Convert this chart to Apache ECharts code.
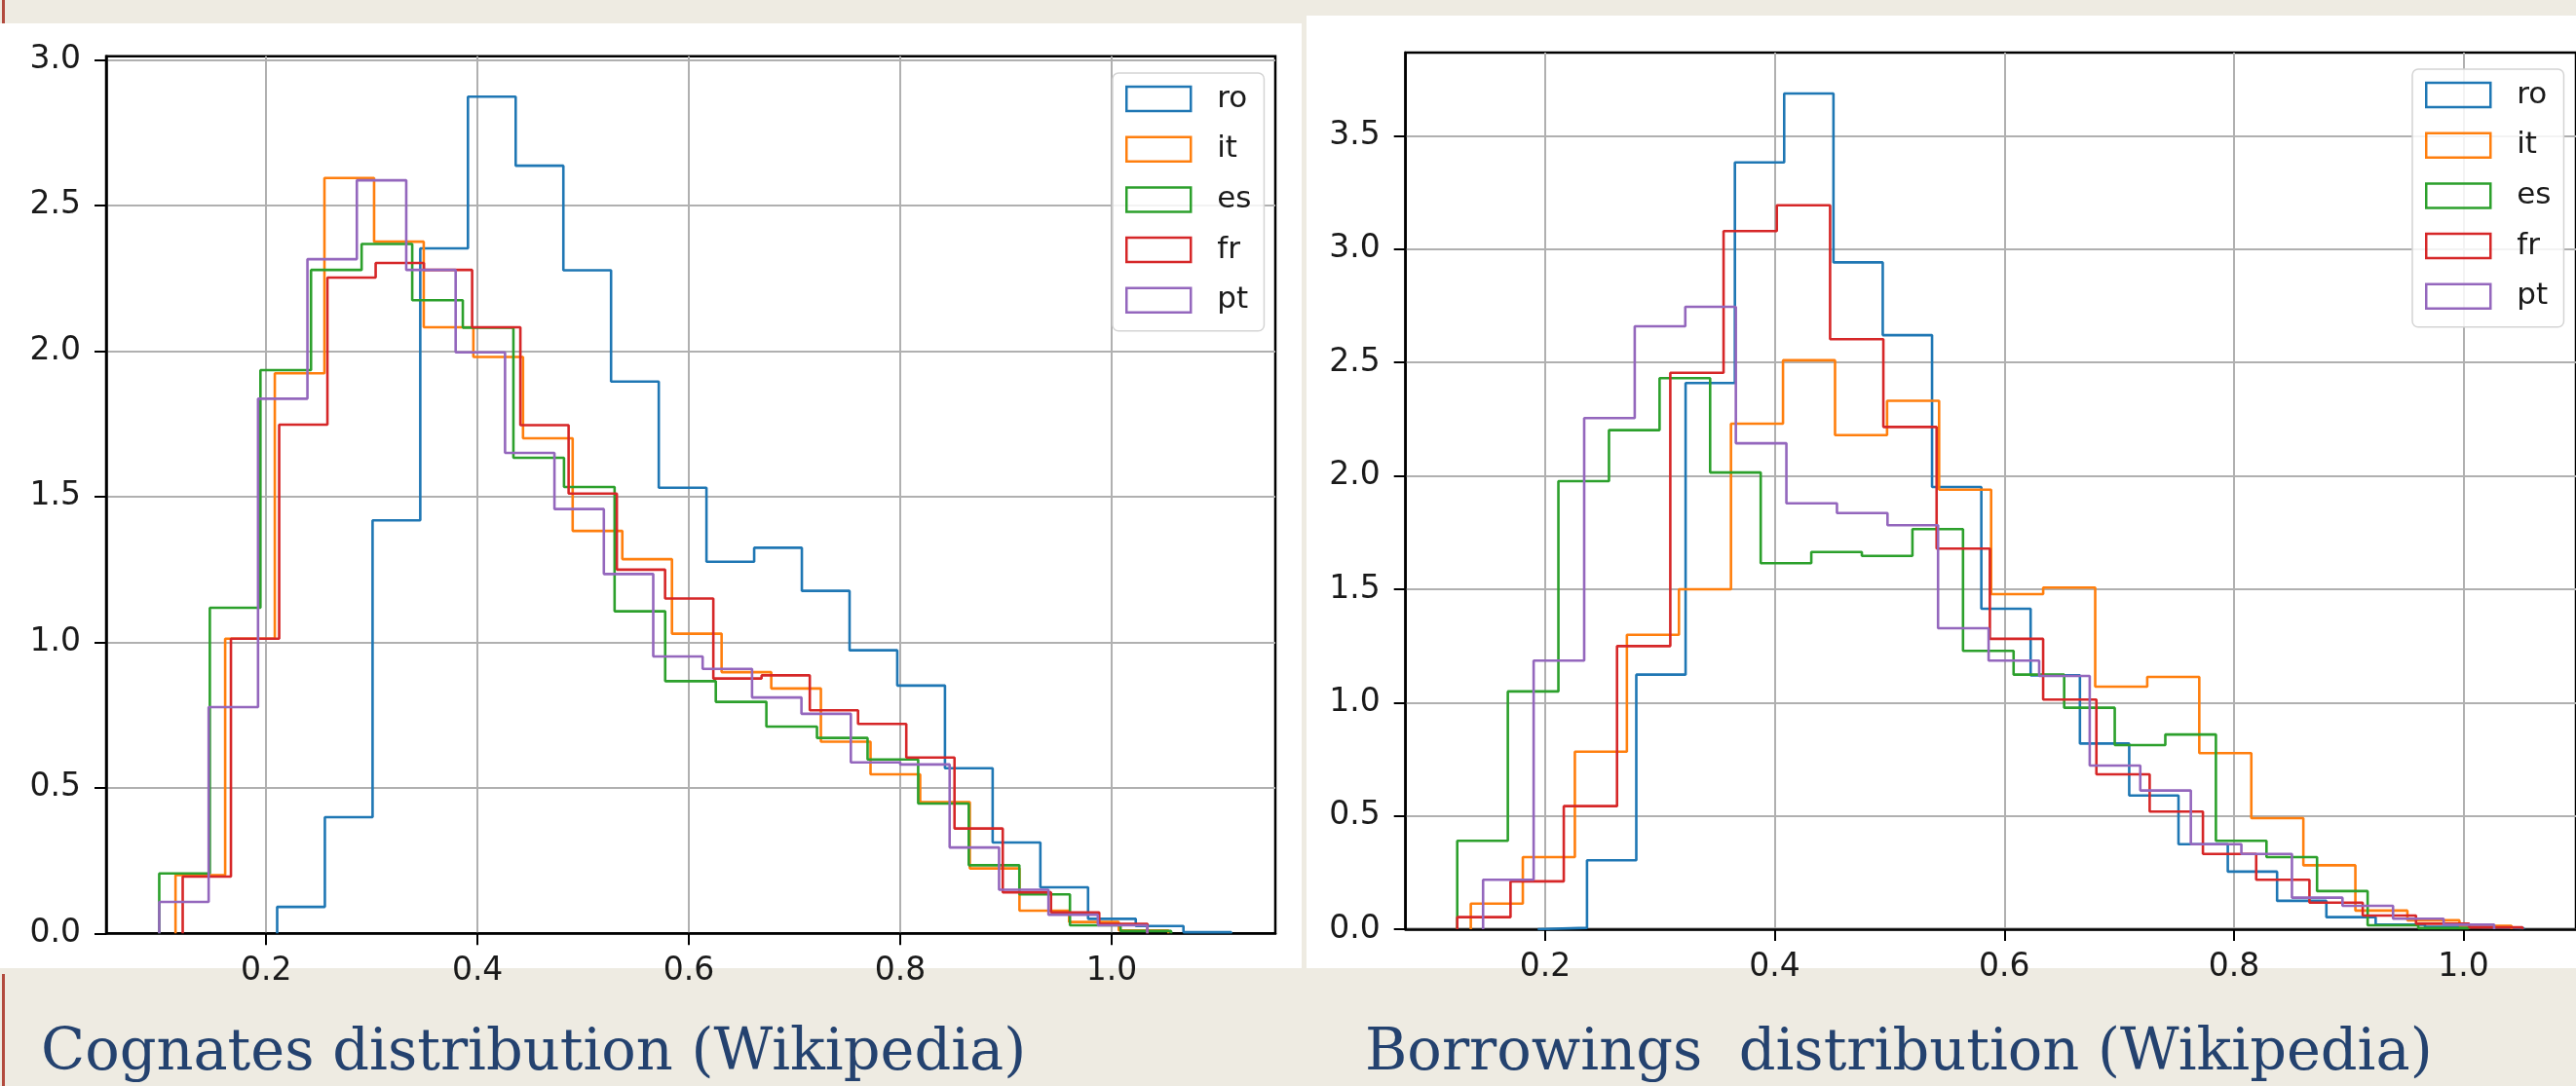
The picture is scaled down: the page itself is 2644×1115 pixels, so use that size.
<!DOCTYPE html>
<html><head><meta charset="utf-8">
<script src="https://cdn.jsdelivr.net/npm/echarts@6/dist/echarts.min.js"></script>
<style>html,body{margin:0;padding:0;background:#eeebe2;} #c{width:2644px;height:1115px;}</style>
</head><body><div id="c"></div>
<script>
const languages = ['ro','it','es','fr','pt'];
const colors = ['#1f77b4','#ff7f0e','#2ca02c','#d62728','#9467bd'];

// Cognates distribution: per-language bin start, bin width, densities (20 bins)
const cognateBinStart = [0.2104, 0.1142, 0.0988, 0.1210, 0.0988];
const cognateBinWidth = [0.04514, 0.04698, 0.04788, 0.04565, 0.04675];
const cognateRo = [0.091,0.399,1.418,2.352,2.873,2.636,2.277,1.895,1.530,1.276,1.324,1.176,0.972,0.851,0.567,0.312,0.158,0.050,0.025,0.004];
const cognateIt = [0.200,1.012,1.923,2.594,2.375,2.081,1.979,1.700,1.382,1.285,1.029,0.897,0.841,0.658,0.546,0.451,0.223,0.078,0.039,0.010];
const cognateEs = [0.206,1.118,1.934,2.278,2.367,2.174,2.080,1.633,1.533,1.106,0.866,0.795,0.710,0.671,0.597,0.446,0.234,0.134,0.028,0.008];
const cognateFr = [0.195,1.012,1.747,2.252,2.302,2.278,2.081,1.745,1.510,1.249,1.150,0.875,0.886,0.766,0.719,0.604,0.360,0.141,0.072,0.033];
const cognatePt = [0.108,0.777,1.836,2.315,2.586,2.278,1.995,1.650,1.457,1.234,0.951,0.908,0.810,0.754,0.587,0.580,0.295,0.150,0.064,0.028];

// Borrowings distribution
const borrowBinStart = [0.1935, 0.1352, 0.1234, 0.1234, 0.1459];
const borrowBinWidth = [0.04294, 0.04533, 0.04406, 0.04640, 0.04404];
const borrowRo = [0.006,0.304,1.123,2.410,3.383,3.687,2.942,2.621,1.951,1.414,1.120,0.819,0.590,0.375,0.254,0.125,0.053,0.020,0.010,0.005];
const borrowIt = [0.113,0.318,0.783,1.299,1.500,2.230,2.510,2.180,2.331,1.939,1.478,1.507,1.070,1.113,0.777,0.490,0.282,0.082,0.039,0.015];
const borrowEs = [0.390,1.049,1.977,2.202,2.431,2.015,1.615,1.664,1.647,1.765,1.228,1.123,0.977,0.812,0.859,0.390,0.318,0.168,0.017,0.005];
const borrowFr = [0.053,0.211,0.543,1.249,2.455,3.080,3.194,2.603,2.216,1.679,1.281,1.013,0.683,0.519,0.332,0.218,0.117,0.060,0.024,0.008];
const borrowPt = [0.218,1.185,2.255,2.660,2.746,2.144,1.879,1.836,1.782,1.328,1.185,1.117,0.722,0.612,0.375,0.332,0.139,0.103,0.046,0.020];

// Tick labels
const cognateXTicks = [0.2,0.4,0.6,0.8,1.0];
const cognateYTicks = [0,0.5,1.0,1.5,2.0,2.5,3.0];
const borrowXTicks = [0.2,0.4,0.6,0.8,1.0];
const borrowYTicks = [0,0.5,1.0,1.5,2.0,2.5,3.0,3.5];

const titles = ['Cognates distribution (Wikipedia)', 'Borrowings  distribution (Wikipedia)'];

function stepPoints(start, width, vals){
  const pts = [[start, 0]];
  vals.forEach((v, i) => { pts.push([start + i*width, v]); pts.push([start + (i+1)*width, v]); });
  pts.push([start + vals.length*width, 0]);
  return pts;
}

const tickFont = {fontSize: 33, color: '#1a1a1a', fontFamily: 'DejaVu Sans'};

function xAxisCfg(gi, min, max, ticks){
  return {type:'value', gridIndex: gi, min: min, max: max,
    axisLine:{show:true, onZero:false, lineStyle:{color:'#000', width:2.5}},
    axisTick:{show:true, length:12, customValues: ticks, lineStyle:{color:'#000', width:2}},
    axisLabel:Object.assign({customValues: ticks, margin:23, formatter: v => v.toFixed(1)}, tickFont),
    splitLine:{show:true, lineStyle:{color:'#b0b0b0', width:2}}};
}
function yAxisCfg(gi, min, max, ticks){
  return {type:'value', gridIndex: gi, min: min, max: max,
    axisLine:{show:true, onZero:false, lineStyle:{color:'#000', width:2.5}},
    axisTick:{show:true, length:12, customValues: ticks, lineStyle:{color:'#000', width:2}},
    axisLabel:Object.assign({customValues: ticks, margin:26, formatter: v => v.toFixed(1)}, tickFont),
    splitLine:{show:true, lineStyle:{color:'#b0b0b0', width:2}}};
}

const cognateSets = [cognateRo, cognateIt, cognateEs, cognateFr, cognatePt];
const borrowSets = [borrowRo, borrowIt, borrowEs, borrowFr, borrowPt];

const series = [];
languages.forEach((lang, i) => {
  series.push({type:'line', name: lang, xAxisIndex:0, yAxisIndex:0, showSymbol:false, symbol:'none',
    data: stepPoints(cognateBinStart[i], cognateBinWidth[i], cognateSets[i]),
    lineStyle:{color: colors[i], width: 2.6}, itemStyle:{color: colors[i]}, z: 3});
});
languages.forEach((lang, i) => {
  series.push({type:'line', name: lang + ' ', xAxisIndex:1, yAxisIndex:1, showSymbol:false, symbol:'none',
    data: stepPoints(borrowBinStart[i], borrowBinWidth[i], borrowSets[i]),
    lineStyle:{color: colors[i], width: 2.6}, itemStyle:{color: colors[i]}, z: 3});
});

function legendCfg(names, left, top){
  return {orient:'vertical', left: left, top: top, icon:'rect', itemWidth: 66, itemHeight: 25, itemGap: 20.7,
    padding:[11, 13, 16, 13], backgroundColor:'rgba(255,255,255,0.85)', borderColor:'#d4d4d4', borderWidth:1.5, borderRadius:6,
    textStyle:{fontSize:31, lineHeight:31, color:'#1a1a1a', fontFamily:'DejaVu Sans', padding:[0,0,0,22]},
    data: names.map((n, i) => ({name: n, itemStyle:{color:'rgba(255,255,255,0)', borderColor: colors[i], borderWidth: 2.5}})),
    formatter: n => n.trim(), selectedMode:false};
}

const chart = echarts.init(document.getElementById('c'), null, {renderer:'canvas'});
chart.setOption({
  animation: false,
  backgroundColor: '#eeebe2',
  graphic: [
    {type:'rect', z:-100, shape:{x:0, y:24, width:1336, height:970}, style:{fill:'#ffffff'}},
    {type:'rect', z:-100, shape:{x:1341, y:16, width:1303, height:978}, style:{fill:'#ffffff'}},
    {type:'rect', z:-100, shape:{x:2, y:0, width:3, height:24}, style:{fill:'#b24a3e'}},
    {type:'rect', z:-100, shape:{x:2, y:1000, width:3, height:115}, style:{fill:'#b24a3e'}}
  ],
  title: [
    {text: titles[0], left: 37, top: 1048, textStyle:{fontFamily:'DejaVu Serif', fontSize:59, fontWeight:'normal', color:'#24426f'}},
    {text: titles[1], left: 1396, top: 1048, textStyle:{fontFamily:'DejaVu Serif', fontSize:59, fontWeight:'normal', color:'#24426f'}}
  ],
  grid: [
    {left: 109, top: 57.7, width: 1200, height: 900.6, show:true, backgroundColor:'#fff', borderColor:'#000', borderWidth:2.5, containLabel:false},
    {left: 1442.7, top: 53.9, width: 1207, height: 900.1, show:true, backgroundColor:'#fff', borderColor:'#000', borderWidth:2.5, containLabel:false}
  ],
  xAxis: [xAxisCfg(0, 0.0486, 1.155, cognateXTicks), xAxisCfg(1, 0.0784, 1.098, borrowXTicks)],
  yAxis: [yAxisCfg(0, 0, 3.012, cognateYTicks), yAxisCfg(1, 0, 3.868, borrowYTicks)],
  legend: [legendCfg(languages, 1142, 75), legendCfg(languages.map(l => l + ' '), 2476, 71)],
  series: series
});
</script></body></html>
